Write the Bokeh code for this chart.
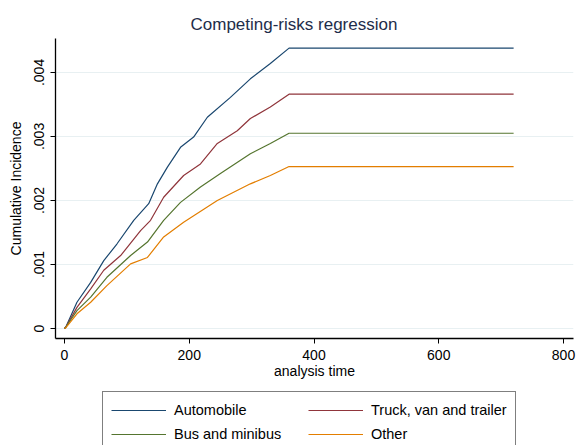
from bokeh.plotting import figure
from bokeh.models import Legend, LegendItem, FixedTicker, Range1d
from bokeh.layouts import column
from bokeh.embed import file_html
from bokeh.resources import INLINE

# ---- data ----
auto_t = [0, 2, 20, 42, 63, 84, 111, 135, 149, 165, 186, 207, 229, 266, 298, 330, 360, 720]
auto_y = [0, 0.00002, 0.00041, 0.00072, 0.00106, 0.00132, 0.00169, 0.00195, 0.00226, 0.00252,
          0.00283, 0.00299, 0.00330, 0.00361, 0.00390, 0.00414, 0.00438, 0.00438]

truck_t = [0, 2, 20, 42, 63, 90, 122, 138, 159, 191, 218, 245, 277, 298, 330, 360, 720]
truck_y = [0, 0.00002, 0.00033, 0.00062, 0.00091, 0.00114, 0.00153, 0.00169, 0.00205, 0.00239,
           0.00257, 0.00289, 0.00309, 0.00328, 0.00346, 0.00366, 0.00366]

bus_t = [0, 2, 20, 42, 68, 106, 133, 159, 186, 218, 250, 298, 330, 360, 720]
bus_y = [0, 0.00002, 0.00028, 0.00049, 0.00080, 0.00114, 0.00135, 0.00169, 0.00197, 0.00221,
         0.00242, 0.00273, 0.00289, 0.00305, 0.00305]

other_t = [0, 2, 20, 42, 68, 106, 133, 159, 191, 245, 298, 330, 360, 720]
other_y = [0, 0.00001, 0.00023, 0.00041, 0.00067, 0.00101, 0.00111, 0.00143, 0.00166, 0.00200,
           0.00226, 0.00239, 0.00253, 0.00253]

series_names = ["Automobile", "Truck, van and trailer", "Bus and minibus", "Other"]
x_ticks = [0, 200, 400, 600, 800]
y_ticks = [0, 0.001, 0.002, 0.003, 0.004]
y_tick_labels = ["0", ".001", ".002", ".003", ".004"]

colors = ["#1a476f", "#90353b", "#55752f", "#e37e00"]
FONT = "Liberation Sans"
all_t = [auto_t, truck_t, bus_t, other_t]
all_y = [auto_y, truck_y, bus_y, other_y]

p = figure(frame_width=518, frame_height=300, output_backend="svg", toolbar_location=None,
           x_range=Range1d(-14.4, 816), y_range=Range1d(-0.000156, 0.00453),
           title="Competing-risks regression",
           min_border_left=55, min_border_right=6, min_border_top=38, min_border_bottom=50)

p.background_fill_color = "white"
p.border_fill_color = "white"
p.outline_line_color = None

p.title.text_font = FONT
p.title.text_font_size = "17px"
p.title.text_font_style = "normal"
p.title.text_color = "#1e2d4a"
p.title.align = "left"
p.title.offset = 135

for t, y, c in zip(all_t, all_y, colors):
    p.line(t, y, line_color=c, line_width=1.2)

# axes
p.xaxis.ticker = FixedTicker(ticks=x_ticks)
p.yaxis.ticker = FixedTicker(ticks=y_ticks)
p.yaxis.major_label_overrides = {t: l for t, l in zip(y_ticks, y_tick_labels)}
p.yaxis.major_label_orientation = "vertical"
for ax in (p.xaxis, p.yaxis):
    ax.axis_line_color = "black"
    ax.axis_line_width = 1.3
    ax.major_tick_line_color = "black"
    ax.major_tick_out = 5
    ax.major_tick_in = 0
    ax.minor_tick_line_color = None
    ax.major_label_text_font = FONT
    ax.major_label_text_font_size = "14px"
    ax.major_label_text_color = "black"
    ax.axis_label_text_font = FONT
    ax.axis_label_text_font_size = "14px"
    ax.axis_label_text_font_style = "normal"
    ax.axis_label_text_color = "black"
p.xaxis.axis_label = "analysis time"
p.yaxis.axis_label = "Cumulative Incidence"
p.xaxis.axis_label_standoff = 0
p.xaxis.major_label_standoff = 6
p.yaxis.major_label_standoff = 6
p.yaxis.axis_label_standoff = 8

p.xgrid.grid_line_color = None
p.ygrid.grid_line_color = "#e8f0f2"
p.ygrid.grid_line_width = 1.2

# legend strip below the plot (same series, drawn outside its visible range)
lg = figure(width=579, height=57, output_backend="svg", toolbar_location=None,
            x_range=Range1d(-3, -2), y_range=Range1d(0, 1),
            min_border=0, min_border_left=0, min_border_right=0,
            min_border_top=0, min_border_bottom=0)
lg.axis.visible = False
lg.grid.visible = False
lg.outline_line_color = None
lg.background_fill_color = "white"
lg.border_fill_color = "white"
lg_renderers = [lg.line(t, y, line_color=c, line_width=1.2) for t, y, c in zip(all_t, all_y, colors)]

items = [LegendItem(label=n, renderers=[r]) for n, r in zip(series_names, lg_renderers)]
legend = Legend(items=items, orientation="horizontal", ncols=2,
                location=(47, -8), border_line_color="black", border_line_width=1,
                background_fill_color="white", background_fill_alpha=1,
                label_text_font=FONT, label_text_font_size="14.5px", label_text_color="black",
                glyph_width=55, glyph_height=14, label_standoff=8, label_width=130,
                label_height=20, spacing=4, padding=8, margin=0)
lg.add_layout(legend, "center")

layout = column(p, lg, spacing=0)
open("out.html", "w").write(file_html(layout, INLINE))
